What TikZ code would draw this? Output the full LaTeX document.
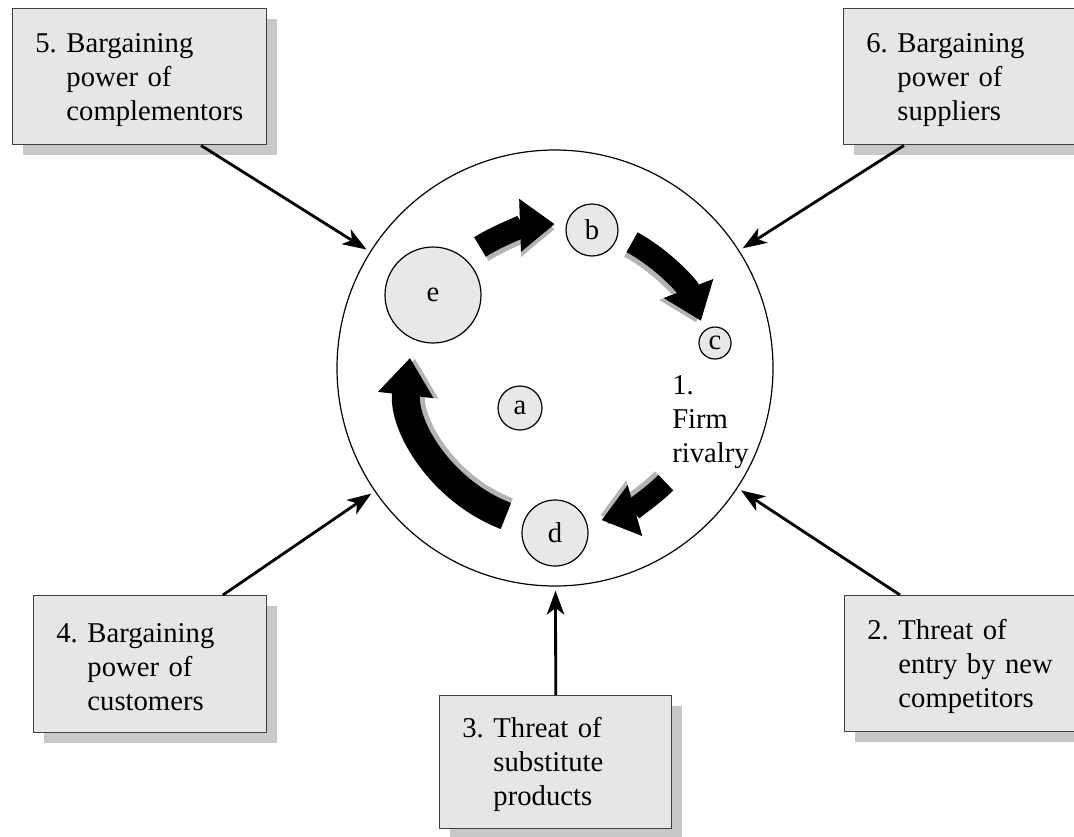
\documentclass[tikz,border=0pt]{standalone}
\usepackage[dvipsnames,svgnames]{xcolor}
\usepackage{fontspec}
\setmainfont{Liberation Serif}
\usetikzlibrary{arrows.meta,shadows,calc}

\definecolor{boxgray}{RGB}{230,230,232}
\definecolor{shadegray}{RGB}{200,200,203}
\definecolor{discgray}{RGB}{232,232,232}
\definecolor{tailgray}{RGB}{180,180,183}

\newcommand\forcelabel[4]{\rule{0pt}{19pt}#1~#2\\\hphantom{#1~}#3\\\hphantom{#1~}#4}

\tikzset{
  forcebox/.style={draw=black!75, line width=1.1pt, fill=boxgray,
    anchor=north west, align=left, inner xsep=17pt, inner ysep=0pt,
    drop shadow={shadow xshift=7.5pt, shadow yshift=-7.5pt,
      fill=shadegray, opacity=1}},
  disc/.style={draw, circle, line width=0.9pt, fill=discgray, inner sep=0pt},
  push/.style={line width=2.1pt, shorten >=3pt,
    -{Stealth[length=18pt, width=13pt, inset=5pt]}}
}

\begin{document}
\begin{tikzpicture}[x=0.75pt, y=-0.75pt, font=\fontsize{21.5}{25.5}\selectfont]
 \useasboundingbox (0,0) rectangle (1074,836);

 % the five forces
 \node[forcebox, text width=156.5pt, minimum height=102pt] (b5) at (12,8)
   {\forcelabel{5.}{Bargaining}{power of}{complementors}};
 \node[forcebox, text width=140.75pt, minimum height=102pt] (b6) at (843,8)
   {\forcelabel{6.}{Bargaining}{power of}{suppliers}};
 \node[forcebox, text width=140.75pt, minimum height=102.75pt] (b4) at (33,595)
   {\forcelabel{4.}{Bargaining}{power of}{customers}};
 \node[forcebox, text width=140pt, minimum height=102pt] (b2) at (844,595)
   {\forcelabel{2.}{Threat of}{entry by new}{competitors}};
 \node[forcebox, text width=140pt, minimum height=99.75pt] (b3) at (439,695)
   {\forcelabel{3.}{Threat of}{substitute}{products}};

 % the rivalry circle
 \node[draw, circle, line width=0.9pt, minimum size=327pt, inner sep=0pt]
   (firm) at (555,368) {};
 \node[disc, minimum size=72pt] (e) at (433,295) {e};
 \node[disc, minimum size=39pt] (b) at (592,230) {b};
 \node[disc, minimum size=24pt] (c) at (715,343) {c};
 \node[disc, minimum size=33pt] (a) at (520,408) {a};
 \node[disc, minimum size=49.5pt] (d) at (555,533) {d};
 \node[anchor=west, align=left, inner sep=0pt] (rivalry) at (672,422)
   {1.\\Firm\\rivalry};

 \begin{scope}[shift={(560,375)}]
  \coordinate (hub) at (0,0);
  \foreach \a/\b/\w/\hl/\hw in {-122/-92/17/26/38, -61.5/-21/17/26/38,
      45.5/74/16/26/38, 111/186.5/21/28/40}{
    \draw[tailgray, line width=\w pt, -{Triangle[length=\hl pt, width=\hw pt]}]
      (\a:146) arc[start angle=\a, end angle=\b, radius=146];
    \draw[black, line width=\w pt, -{Triangle[length=\hl pt, width=\hw pt]}]
      (\a:151) arc[start angle=\a, end angle=\b, radius=151];
  }
 \end{scope}

 % forces acting on the firm
 \draw[push] ($(b5.south west)!.74!(b5.south east)$) -- (firm);
 \draw[push] ($(b6.south west)!.26!(b6.south east)$) -- (firm);
 \draw[push] ($(b4.north west)!.81!(b4.north east)$) -- (firm);
 \draw[push] ($(b2.north west)!.24!(b2.north east)$) -- (firm);
 \draw[push] (b3.north) -- (firm);
\end{tikzpicture}
\end{document}
